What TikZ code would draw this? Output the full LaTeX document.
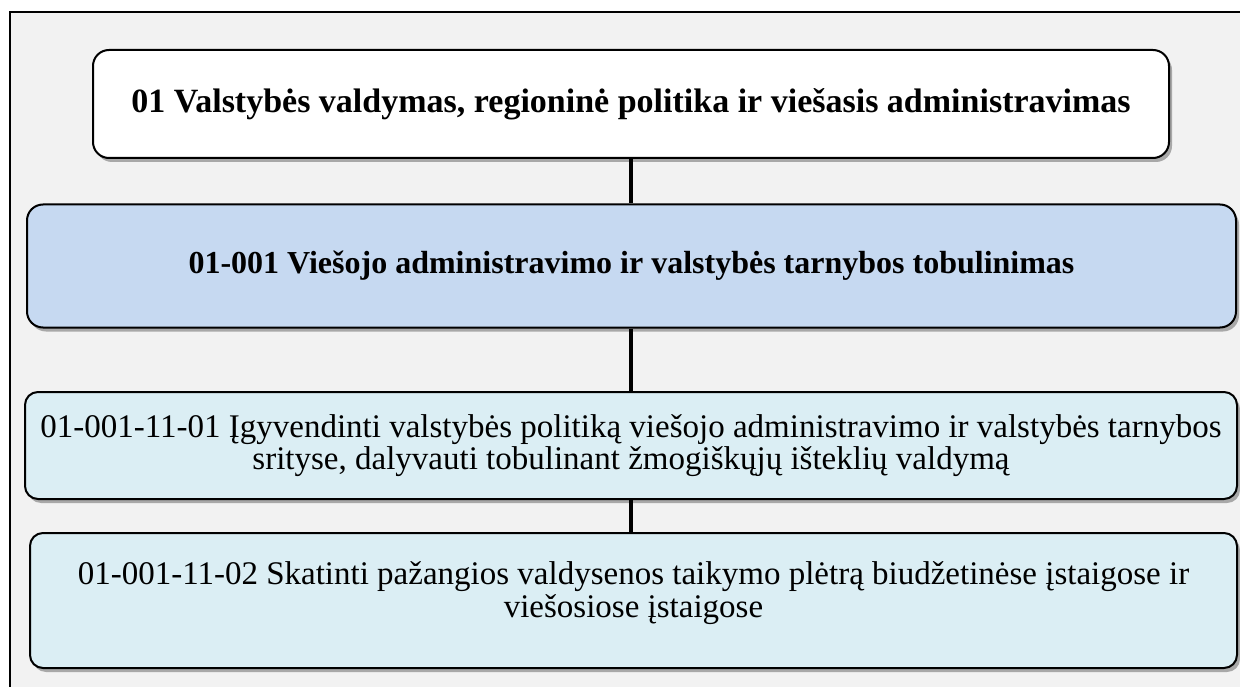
\documentclass[tikz,border=0pt]{standalone}
\usepackage{fontspec}
\setmainfont{Liberation Serif}
\usetikzlibrary{shadows}
\definecolor{bgc}{HTML}{F2F2F2}
\definecolor{blueA}{HTML}{C6D9F1}
\definecolor{blueB}{HTML}{DBEEF4}
\tikzset{
  box/.style={draw=black, line width=2pt, rounded corners=16pt, align=center, inner sep=0pt,
    drop shadow={shadow xshift=3pt, shadow yshift=-4pt, opacity=0.3, fill=black}},
  link/.style={draw=black, line width=4pt},
  txt/.style={font=\fontsize{33}{32.5}\selectfont, align=center},
  btxt/.style={font=\fontsize{34}{36}\selectfont\bfseries, align=center}
}
\begin{document}
\begin{tikzpicture}[x=1pt,y=-1pt]
\useasboundingbox (0,0) rectangle (1240,687);
\begin{scope}
\clip (0,0) rectangle (1240,687);
\draw[fill=bgc, line width=2pt] (10,12) rectangle (1260,710);
\end{scope}
\node[box, fill=white, minimum width=1076pt, minimum height=108pt, btxt] (b1) at (631,104)
  {01 Valstybės valdymas, regioninė politika ir viešasis administravimas};
\node[box, fill=blueA, minimum width=1209pt, minimum height=123pt, btxt, font=\fontsize{32}{36}\selectfont\bfseries] (b2) at (631.5,266)
  {01-001 Viešojo administravimo ir valstybės tarnybos tobulinimas};
\node[box, fill=blueB, minimum width=1212pt, minimum height=107pt, txt, rounded corners=13pt] (b3) at (631,445.5)
  {01-001-11-01 Įgyvendinti valstybės politiką viešojo administravimo ir valstybės tarnybos\\
   srityse, dalyvauti tobulinant žmogiškųjų išteklių valdymą};
\node[box, fill=blueB, minimum width=1207pt, minimum height=135pt, rounded corners=13pt,
  label={[txt, yshift=7.5pt]center:{01-001-11-02 Skatinti pažangios valdysenos taikymo plėtrą biudžetinėse įstaigose ir\\
   viešosiose įstaigose}}] (b4) at (633.5,600.5) {};
\draw[link] (b1.south -| 631,0) -- (b2.north -| 631,0);
\draw[link] (b2.south -| 631,0) -- (b3.north -| 631,0);
\draw[link] (b3.south -| 631,0) -- (b4.north -| 631,0);
\end{tikzpicture}
\end{document}
